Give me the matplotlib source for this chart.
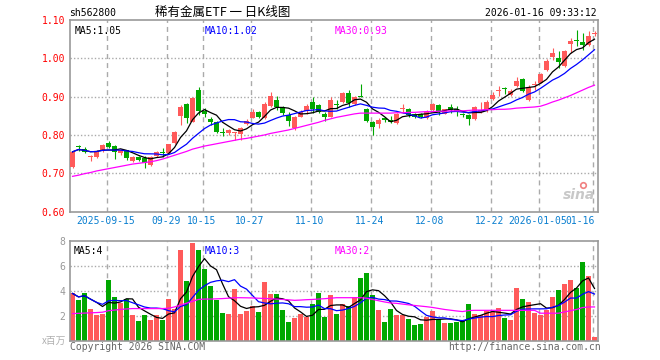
import numpy as np
import pandas as pd
from matplotlib import pyplot as plt
from matplotlib import transforms

plt.rcParams['font.family'] = ['DejaVu Sans Mono', 'Noto Sans CJK SC']

# daily candles, 2025-09-05 .. 2026-01-16 (88 trading days)
opens = [0.716, 0.769, 0.763, 0.742, 0.743, 0.758, 0.778, 0.771, 0.752, 0.761,
         0.732, 0.743, 0.741, 0.722, 0.745, 0.754, 0.752, 0.778, 0.850, 0.881,
         0.835, 0.917, 0.863, 0.842, 0.835, 0.807, 0.804, 0.804, 0.802, 0.828,
         0.845, 0.861, 0.843, 0.876, 0.891, 0.872, 0.852, 0.817, 0.848, 0.863,
         0.887, 0.878, 0.855, 0.848, 0.879, 0.887, 0.910, 0.881, 0.902, 0.867,
         0.834, 0.829, 0.843, 0.839, 0.830, 0.868, 0.867, 0.855, 0.855, 0.843,
         0.865, 0.878, 0.856, 0.874, 0.869, 0.853, 0.852, 0.841, 0.861, 0.865,
         0.893, 0.914, 0.922, 0.904, 0.928, 0.945, 0.891, 0.930, 0.936, 0.970,
         1.004, 1.000, 0.980, 1.037, 1.047, 1.043, 1.035, 1.063]
highs = [0.758, 0.773, 0.768, 0.748, 0.760, 0.776, 0.783, 0.773, 0.763, 0.762,
         0.746, 0.745, 0.744, 0.745, 0.758, 0.765, 0.777, 0.810, 0.878, 0.883,
         0.899, 0.924, 0.870, 0.848, 0.837, 0.817, 0.815, 0.809, 0.822, 0.841,
         0.867, 0.862, 0.887, 0.913, 0.902, 0.876, 0.861, 0.849, 0.865, 0.881,
         0.900, 0.882, 0.861, 0.900, 0.891, 0.913, 0.917, 0.902, 0.933, 0.870,
         0.837, 0.843, 0.848, 0.849, 0.858, 0.882, 0.870, 0.858, 0.857, 0.865,
         0.884, 0.880, 0.869, 0.880, 0.875, 0.858, 0.856, 0.876, 0.887, 0.891,
         0.913, 0.928, 0.926, 0.919, 0.950, 0.948, 0.930, 0.942, 0.962, 0.997,
         1.026, 1.020, 1.022, 1.052, 1.074, 1.067, 1.070, 1.070]
lows = [0.713, 0.757, 0.752, 0.733, 0.741, 0.756, 0.765, 0.737, 0.748, 0.735,
        0.730, 0.731, 0.713, 0.719, 0.743, 0.743, 0.750, 0.776, 0.826, 0.830,
        0.833, 0.852, 0.848, 0.826, 0.804, 0.796, 0.800, 0.787, 0.787, 0.826,
        0.843, 0.844, 0.841, 0.874, 0.865, 0.852, 0.823, 0.813, 0.846, 0.856,
        0.858, 0.857, 0.836, 0.846, 0.867, 0.884, 0.874, 0.878, 0.898, 0.834,
        0.800, 0.817, 0.835, 0.830, 0.828, 0.858, 0.846, 0.843, 0.844, 0.841,
        0.863, 0.852, 0.854, 0.858, 0.849, 0.846, 0.826, 0.839, 0.858, 0.861,
        0.891, 0.902, 0.907, 0.902, 0.926, 0.913, 0.889, 0.917, 0.935, 0.968,
        0.996, 0.974, 0.978, 1.015, 1.032, 1.022, 1.032, 1.057]
closes = [0.756, 0.768, 0.756, 0.745, 0.759, 0.774, 0.769, 0.756, 0.761, 0.739,
          0.743, 0.735, 0.728, 0.743, 0.756, 0.752, 0.776, 0.809, 0.874, 0.843,
          0.897, 0.863, 0.854, 0.835, 0.809, 0.805, 0.813, 0.806, 0.819, 0.837,
          0.859, 0.846, 0.881, 0.902, 0.872, 0.858, 0.837, 0.846, 0.861, 0.876,
          0.869, 0.861, 0.846, 0.891, 0.878, 0.909, 0.883, 0.898, 0.900, 0.837,
          0.822, 0.839, 0.840, 0.835, 0.855, 0.869, 0.852, 0.848, 0.846, 0.861,
          0.882, 0.861, 0.867, 0.865, 0.863, 0.852, 0.841, 0.872, 0.865, 0.887,
          0.904, 0.915, 0.921, 0.916, 0.942, 0.915, 0.926, 0.931, 0.959, 0.994,
          1.013, 0.990, 1.019, 1.046, 1.046, 1.035, 1.058, 1.065]
# volume, millions
volumes = [3.78, 3.23, 3.78, 2.51, 2.04, 2.12, 4.89, 3.47, 2.99, 3.31,
           2.04, 1.56, 2.04, 1.64, 2.04, 1.64, 3.31, 2.51, 7.28, 4.74,
           7.83, 7.28, 5.71, 4.34, 3.23, 2.20, 2.12, 4.10, 2.12, 2.35,
           2.75, 2.28, 4.66, 3.70, 3.70, 2.43, 1.48, 1.80, 2.12, 1.88,
           2.91, 3.78, 1.88, 3.62, 2.12, 2.91, 2.75, 3.47, 5.05, 5.45,
           3.62, 2.43, 1.48, 2.51, 2.04, 2.04, 1.72, 1.24, 1.32, 1.88,
           2.35, 1.72, 1.40, 1.40, 1.48, 1.56, 2.91, 2.12, 2.04, 2.35,
           2.28, 2.59, 1.80, 1.64, 4.18, 3.31, 3.07, 2.20, 2.04, 2.43,
           3.47, 4.02, 4.50, 4.89, 4.18, 6.32, 5.21, 0.29]
# MA30 lines (need history before the window)
price_ma30 = [0.692, 0.695, 0.699, 0.702, 0.706, 0.709, 0.712, 0.715, 0.718, 0.721,
              0.724, 0.726, 0.728, 0.730, 0.733, 0.737, 0.742, 0.747, 0.752, 0.757,
              0.763, 0.767, 0.771, 0.774, 0.777, 0.780, 0.783, 0.786, 0.789, 0.791,
              0.794, 0.797, 0.800, 0.804, 0.807, 0.810, 0.813, 0.817, 0.821, 0.825,
              0.829, 0.833, 0.838, 0.842, 0.846, 0.849, 0.852, 0.855, 0.857, 0.857,
              0.857, 0.857, 0.857, 0.857, 0.858, 0.858, 0.859, 0.859, 0.860, 0.861,
              0.861, 0.862, 0.862, 0.863, 0.863, 0.863, 0.864, 0.865, 0.865, 0.866,
              0.866, 0.867, 0.867, 0.868, 0.870, 0.871, 0.872, 0.873, 0.875, 0.880,
              0.886, 0.891, 0.897, 0.903, 0.910, 0.917, 0.924, 0.930]
vol_ma30 = [2.17, 2.19, 2.21, 2.23, 2.25, 2.28, 2.40, 2.45, 2.50, 2.54,
            2.57, 2.57, 2.57, 2.57, 2.57, 2.57, 2.60, 2.70, 2.85, 3.00,
            3.15, 3.30, 3.33, 3.33, 3.35, 3.37, 3.40, 3.44, 3.44, 3.43,
            3.42, 3.40, 3.38, 3.36, 3.33, 3.30, 3.27, 3.23, 3.25, 3.28,
            3.30, 3.33, 3.36, 3.40, 3.44, 3.44, 3.44, 3.44, 3.44, 3.40,
            3.30, 3.20, 3.10, 3.02, 2.99, 2.93, 2.87, 2.82, 2.77, 2.72,
            2.66, 2.58, 2.50, 2.44, 2.38, 2.33, 2.41, 2.43, 2.43, 2.43,
            2.43, 2.43, 2.43, 2.43, 2.43, 2.43, 2.43, 2.43, 2.20, 2.20,
            2.20, 2.20, 2.30, 2.40, 2.50, 2.65, 2.70, 2.70]
date_idx = [6, 16, 22, 30, 40, 50, 60, 70, 78, 87]
date_labels = ["2025-09-15", "09-29", "10-15", "10-27", "11-10", "11-24",
               "12-08", "12-22", "2026-01-05", "01-16"]

RED = "#ff5a5a"
GREEN = "#00a800"
GRID = "#aaaaaa"

df = pd.DataFrame({"o": opens, "h": highs, "l": lows, "c": closes, "v": volumes})
x = np.arange(len(df))
up = df["c"] >= df["o"]
colors = np.where(up, RED, GREEN)

fig = plt.figure(figsize=(6.6, 3.6), dpi=100)
W, H = 660, 360


def add_axes_px(l, t, r, b):
    return fig.add_axes([l / W, 1 - b / H, (r - l) / W, (b - t) / H])


def fig_text(px, py, s, **kw):
    fig.text(px / W, 1 - py / H, s, **kw)


ax = add_axes_px(70, 20, 597.5, 211.6)
axv = add_axes_px(70, 240.7, 597.5, 340.7)

for a in (ax, axv):
    a.set_xlim(-0.42, 87.5)
    for s in a.spines.values():
        s.set_color("#999999")
        s.set_linewidth(1.2)
    a.set_xticks([])
    a.tick_params(axis="y", length=0, pad=3.5, labelsize=7)
    for i in date_idx:
        a.axvline(i - 0.3, color=GRID, lw=1, ls=(0, (3.6, 2.9)), zorder=0)

# price panel
ax.set_ylim(0.60, 1.10)
pticks = [0.60, 0.70, 0.80, 0.90, 1.00, 1.10]
ax.set_yticks(pticks)
ax.set_yticklabels(["%.2f" % t for t in pticks], color="red")
for t in pticks[1:-1]:
    ax.axhline(t, color=GRID, lw=1, ls=(0, (1, 1.5)), zorder=0)

ax.vlines(x, df["l"], df["h"], colors=colors, lw=0.8, zorder=2)
body = np.maximum((df["c"] - df["o"]).abs(), 0.0026)
ax.bar(x, body, bottom=np.minimum(df["o"], df["c"]), width=0.8,
       color=colors, zorder=3)

ma5 = df["c"].rolling(5, min_periods=1).mean()
ma10 = df["c"].rolling(10, min_periods=1).mean()
ax.plot(x, ma5, color="black", lw=0.9, zorder=4)
ax.plot(x, ma10, color="#0000ff", lw=0.9, zorder=4)
ax.plot(x, price_ma30, color="#ff00ff", lw=0.9, zorder=4)

ax.text(5 / 527.5, 0.945, "MA5:%.2f" % ma5.iloc[-1], transform=ax.transAxes,
        fontsize=7, color="black", va="center")
ax.text(135 / 527.5, 0.945, "MA10:%.2f" % ma10.iloc[-1], transform=ax.transAxes,
        fontsize=7, color="#0000ff", va="center")
ax.text(265 / 527.5, 0.945, "MA30:%.2f" % price_ma30[-1], transform=ax.transAxes,
        fontsize=7, color="#ff00ff", va="center")

# sina watermark
ax.text(0.995, 0.05, "sina", transform=ax.transAxes, ha="right", va="bottom",
        fontsize=10, color="#c8c8c8", family="DejaVu Sans", weight="bold",
        style="italic", zorder=1)
ax.plot([0.972], [0.14], marker="o", ms=4, mfc="none", mec="#f08080",
        mew=1.2, transform=ax.transAxes, zorder=1)

# date labels under the price panel
trans = transforms.blended_transform_factory(ax.transData, fig.transFigure)
for i, lab in zip(date_idx, date_labels):
    if lab == "01-16":
        ax.text(i + 0.1, 1 - 221.5 / H, lab, transform=trans, ha="right",
                va="center", fontsize=7, color="#0a7fd0",
                bbox=dict(fc="white", ec="none", pad=0))
    else:
        ax.text(i - 0.45, 1 - 221.5 / H, lab, transform=trans, ha="center",
                va="center", fontsize=7, color="#0a7fd0")

# volume panel
axv.set_ylim(0, 8)
axv.set_yticks([2, 4, 6, 8])
axv.set_yticklabels(["2", "4", "6", "8"], color="#999999")
for t in [2, 4, 6]:
    axv.axhline(t, color=GRID, lw=1, ls=(0, (1, 1.5)), zorder=0)
axv.bar(x, df["v"], width=0.8, color=colors, zorder=2)
vma5 = df["v"].rolling(5, min_periods=1).mean()
vma10 = df["v"].rolling(10, min_periods=1).mean()
axv.plot(x, vma5, color="black", lw=0.9, zorder=4)
axv.plot(x, vma10, color="#0000ff", lw=0.9, zorder=4)
axv.plot(x, vol_ma30, color="#ff00ff", lw=0.9, zorder=4)
axv.text(4 / 527.5, 0.95, "MA5:%d" % vma5.iloc[-1], transform=axv.transAxes,
         fontsize=7, color="black", va="top")
axv.text(135 / 527.5, 0.95, "MA10:%d" % vma10.iloc[-1], transform=axv.transAxes,
         fontsize=7, color="#0000ff", va="top")
axv.text(265 / 527.5, 0.95, "MA30:%d" % vol_ma30[-1], transform=axv.transAxes,
         fontsize=7, color="#ff00ff", va="top")

# header / footer texts
fig_text(69, 12.5, "sh562800", fontsize=7, va="center", color="black")
fig_text(223, 12.5, "稀有金属ETF 一 日K线图", fontsize=9, va="center", ha="center",
         family=["Noto Sans CJK SC", "DejaVu Sans"], color="black")
fig_text(597, 12.5, "2026-01-16 09:33:12", fontsize=7, va="center", ha="right",
         color="black")
fig_text(66, 341, "x百万", fontsize=7, va="center", ha="right", color="#b0b0b0",
         family=["Noto Sans CJK SC", "DejaVu Sans"])
fig_text(70, 347.5, "Copyright 2026 SINA.COM", fontsize=7, va="center",
         color="#666666")
fig_text(601, 347.5, "http://finance.sina.com.cn", fontsize=7, va="center",
         ha="right", color="#666666")

fig.savefig("out.png", dpi=100)
